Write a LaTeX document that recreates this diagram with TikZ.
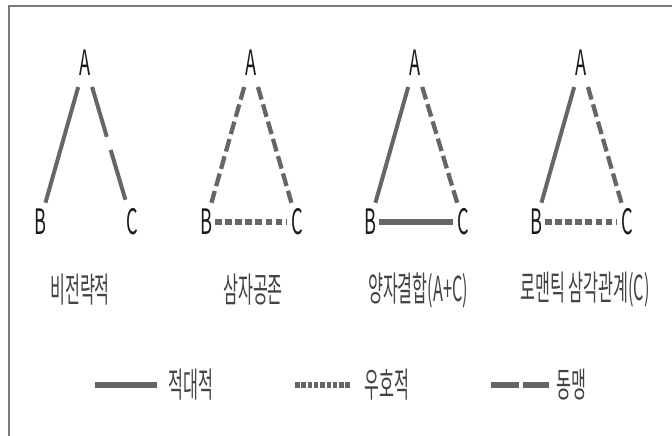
\documentclass[tikz,border=0pt]{standalone}
\usepackage{fontspec}
\newfontfamily\kr[FakeStretch=0.47]{Noto Sans CJK KR}
\newfontfamily\krL[FakeStretch=0.52]{Noto Sans CJK KR}
\definecolor{linegray}{HTML}{666666}
\definecolor{framegray}{HTML}{7A7A7A}
\definecolor{txtgray}{HTML}{444444}
\definecolor{lettergray}{HTML}{1A1A1A}
\begin{document}
\begin{tikzpicture}[x=1pt,y=-1pt,
  lbl/.style={font=\krL\fontsize{35}{35}\selectfont, text=lettergray, inner sep=0pt},
  captxt/.style={font=\kr\fontsize{34.5}{34.5}\selectfont, text=txtgray, inner sep=0pt},
  rel/.style={draw=linegray, line width=4pt},
  side/.style={shorten <=25pt, shorten >=20pt},
  base/.style={shorten <=9pt, shorten >=10pt},
  foe/.style={rel},
  friend/.style={rel, line width=4.3pt, dash pattern=on 13pt off 5pt},
  ally/.style={rel, dash pattern=on 52pt off 13.6pt},
  basefriend/.style={rel, line width=6.8pt, dash pattern=on 6.7pt off 3.4pt},
  basefoe/.style={rel, line width=6.8pt},
]
\useasboundingbox (0,0) rectangle (672,436);
\draw[framegray, line width=2pt] (9,437) -- (9,6) -- (673,6);

% triangle 1
\node[lbl] (A1) at (85,63) {A};
\node[lbl] (B1) at (40,222) {B};
\node[lbl] (C1) at (132,222) {C};
\draw[foe, side] (A1.center) -- (B1.center);
\draw[ally, side] (A1.center) -- (C1.center);

% triangle 2
\node[lbl] (A2) at (251,63) {A};
\node[lbl] (B2) at (206,222) {B};
\node[lbl] (C2) at (297,222) {C};
\draw[friend, side] (A2.center) -- (B2.center);
\draw[friend, side] (A2.center) -- (C2.center);
\draw[basefriend, base] (B2.center) -- (C2.center);

% triangle 3
\node[lbl] (A3) at (415,63) {A};
\node[lbl] (B3) at (370,222) {B};
\node[lbl] (C3) at (463,222) {C};
\draw[foe, side] (A3.center) -- (B3.center);
\draw[friend, side] (A3.center) -- (C3.center);
\draw[basefoe, base] (B3.center) -- (C3.center);

% triangle 4
\node[lbl] (A4) at (581,63) {A};
\node[lbl] (B4) at (536,222) {B};
\node[lbl] (C4) at (627,222) {C};
\draw[foe, side] (A4.center) -- (B4.center);
\draw[friend, side] (A4.center) -- (C4.center);
\draw[basefriend, base] (B4.center) -- (C4.center);

% captions
\node[captxt] (L1) at (80,290) {비전략적};
\node[captxt] (L2) at (253,290) {삼자공존};
\node[captxt] (L3) at (418,290) {양자결합(A+C)};
\node[captxt] (L4) at (585,290) {로맨틱 삼각관계(C)};

% legend
\coordinate (k1) at (95,385);
\node[captxt, anchor=west] (t1) at (168,385) {적대적};
\draw[rel, line width=5.5pt] (k1) -- ([xshift=-11pt]t1.west);
\coordinate (k2) at (295,385);
\node[captxt, anchor=west] (t2) at (364,385) {우호적};
\draw[rel, line width=6.5pt, dash pattern=on 4.5pt off 1.8pt] (k2) -- ([xshift=-13pt]t2.west);
\coordinate (k3) at (491,385);
\node[captxt, anchor=west] (t3) at (556,385) {동맹};
\draw[rel, line width=6pt, dash pattern=on 28pt off 4pt] (k3) -- ([xshift=-7pt]t3.west);
\end{tikzpicture}
\end{document}
